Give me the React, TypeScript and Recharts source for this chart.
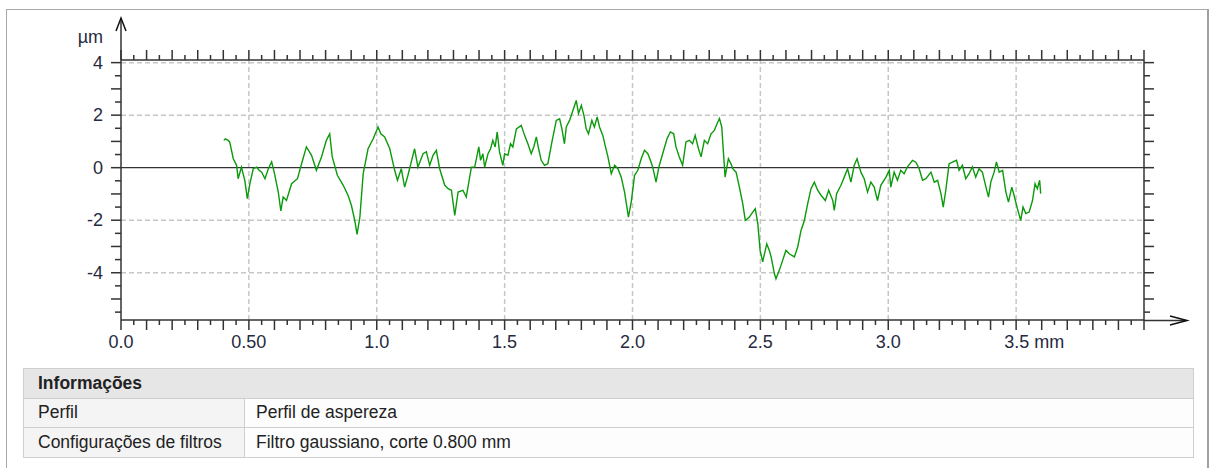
import React from 'react'
import { LineChart, Line, XAxis, YAxis, ReferenceLine } from 'recharts'

// profile (mm, µm)
const profileX = [
  0.402, 0.408, 0.419, 0.425, 0.439, 0.452, 0.458, 0.471, 0.484, 0.494, 0.504, 0.517, 0.53, 0.54, 0.55, 0.563,
  0.576, 0.589, 0.599, 0.615, 0.625, 0.634, 0.647, 0.667, 0.69, 0.706, 0.725, 0.745, 0.764, 0.784, 0.803, 0.816,
  0.826, 0.846, 0.869, 0.888, 0.901, 0.914, 0.923, 0.934, 0.947, 0.966, 0.986, 1.005, 1.016, 1.031, 1.051, 1.07,
  1.081, 1.096, 1.109, 1.122, 1.135, 1.148, 1.161, 1.181, 1.194, 1.207, 1.22, 1.233, 1.246, 1.266, 1.279, 1.292,
  1.305, 1.318, 1.337, 1.35, 1.37, 1.383, 1.399, 1.406, 1.415, 1.422, 1.435, 1.445, 1.454, 1.463, 1.471, 1.48,
  1.493, 1.5, 1.513, 1.523, 1.532, 1.546, 1.565, 1.578, 1.591, 1.604, 1.614, 1.624, 1.633, 1.643, 1.656, 1.669,
  1.685, 1.702, 1.715, 1.724, 1.734, 1.741, 1.754, 1.767, 1.78, 1.789, 1.8, 1.81, 1.819, 1.828, 1.841, 1.851,
  1.862, 1.871, 1.884, 1.893, 1.904, 1.917, 1.93, 1.943, 1.956, 1.969, 1.979, 1.984, 1.995, 2.008, 2.021, 2.034,
  2.047, 2.06, 2.07, 2.079, 2.092, 2.103, 2.118, 2.135, 2.148, 2.161, 2.17, 2.183, 2.196, 2.209, 2.222, 2.235,
  2.245, 2.258, 2.268, 2.281, 2.294, 2.307, 2.32, 2.331, 2.34, 2.349, 2.362, 2.375, 2.385, 2.392, 2.405, 2.418,
  2.431, 2.441, 2.457, 2.47, 2.48, 2.49, 2.499, 2.509, 2.516, 2.525, 2.535, 2.542, 2.555, 2.561, 2.574, 2.587,
  2.6, 2.613, 2.633, 2.646, 2.659, 2.672, 2.685, 2.698, 2.711, 2.724, 2.737, 2.754, 2.767, 2.783, 2.789, 2.798,
  2.815, 2.828, 2.841, 2.854, 2.867, 2.878, 2.893, 2.906, 2.919, 2.932, 2.945, 2.958, 2.971, 2.991, 3.004, 3.01,
  3.023, 3.036, 3.049, 3.062, 3.075, 3.095, 3.108, 3.121, 3.134, 3.147, 3.167, 3.18, 3.193, 3.206, 3.215, 3.225,
  3.238, 3.251, 3.267, 3.277, 3.29, 3.303, 3.316, 3.329, 3.342, 3.355, 3.368, 3.382, 3.392, 3.401, 3.414, 3.423,
  3.434, 3.447, 3.46, 3.47, 3.483, 3.492, 3.505, 3.518, 3.527, 3.538, 3.551, 3.564, 3.574, 3.583, 3.592, 3.596,
]
const profileY = [
  1.04, 1.1, 1.04, 0.98, 0.34, 0.09, -0.42, 0.02, -0.48, -1.18, -0.61, -0.04, 0.02, -0.1, -0.17, -0.42,
  -0.04, 0.22, -0.17, -0.93, -1.65, -1.12, -1.25, -0.61, -0.42, 0.15, 0.79, 0.47, -0.1, 0.41, 1.04, 1.29,
  0.41, -0.29, -0.67, -1.06, -1.44, -2.01, -2.54, -1.88, -0.23, 0.72, 1.1, 1.55, 1.29, 1.17, 0.72, -0.1,
  -0.48, -0.04, -0.74, -0.29, 0.22, 0.72, 0.02, 0.53, 0.6, 0.09, 0.47, 0.66, -0.04, -0.67, -0.8, -0.86,
  -1.82, -0.93, -0.86, -1.12, 0.02, 0.02, 0.79, 0.28, 0.53, 0.02, 0.53, 0.72, 1.04, 0.79, 1.36, 0.6,
  0.09, 0.53, 0.47, 0.91, 0.79, 1.48, 1.61, 1.23, 0.91, 0.53, 0.79, 1.17, 0.72, 0.28, 0.09, 0.15,
  0.98, 1.8, 1.86, 1.48, 0.91, 1.55, 1.8, 2.18, 2.56, 2.06, 2.37, 1.99, 1.48, 1.29, 1.8, 1.55,
  1.93, 1.55, 1.23, 0.85, 0.41, -0.23, 0.09, -0.04, -0.36, -0.93, -1.56, -1.88, -1.31, -0.29, -0.1, 0.34,
  0.66, 0.53, 0.28, 0.02, -0.55, 0.02, 0.53, 1.1, 1.36, 1.29, 0.79, 0.41, 0.09, 0.98, 1.04, 0.91,
  1.23, 0.72, 0.41, 1.04, 0.91, 1.29, 1.42, 1.68, 1.87, 1.55, -0.36, 0.34, 0.15, -0.04, -0.17, -0.74,
  -1.37, -2.01, -1.88, -1.69, -1.56, -2.13, -3.15, -3.59, -3.28, -2.9, -3.15, -3.4, -4.04, -4.23, -3.91, -3.53,
  -3.15, -3.28, -3.4, -3.02, -2.39, -2.01, -1.37, -0.8, -0.55, -0.86, -1.05, -1.25, -0.86, -1.25, -1.63, -0.99,
  -0.67, -0.36, -0.04, -0.55, 0.09, 0.34, -0.17, -0.42, -0.93, -0.55, -0.74, -1.25, -0.67, -0.36, -0.1, -0.74,
  -0.17, -0.48, -0.1, -0.23, 0.03, 0.28, 0.21, -0.04, -0.48, -0.42, -0.17, -0.55, -0.48, -0.99, -1.5, -0.86,
  0.15, 0.21, 0.28, -0.1, 0.09, -0.42, -0.23, 0.03, -0.36, -0.04, -0.17, -0.74, -1.12, -0.55, -0.17, 0.22,
  -0.17, -0.1, -0.93, -1.31, -0.74, -1.05, -1.56, -2.01, -1.5, -1.75, -1.69, -1.25, -0.61, -0.8, -0.48, -0.99,
]

const xMajor = [0, 0.5, 1, 1.5, 2, 2.5, 3, 3.5]
const xLabels = ['0.0', '0.50', '1.0', '1.5', '2.0', '2.5', '3.0', '3.5 mm']
const yMajor = [-4, -2, 0, 2, 4]
const yLabels = ['-4', '-2', '0', '2', '4']
const yGrid = [-4, -2, 2, 4]

const infoRows = [
  ['Perfil', 'Perfil de aspereza'],
  ['Configurações de filtros', 'Filtro gaussiano, corte 0.800 mm'],
]

const data = profileX.map((x, i) => ({ x, y: profileY[i] }))

// minor ticks every 0.05 mm and 0.5 µm
const xTicks = Array.from({ length: 81 }, (_, i) => Math.round(i * 5) / 100)
const yTicks = Array.from({ length: 20 }, (_, i) => -5.5 + i * 0.5)

const AXIS = '#333'
const LABEL = '#262a40'
const FONT = '"Liberation Sans", Arial, sans-serif'

const isLongX = (v: number) => Math.round(v * 20) % 2 === 0
const isLongY = (v: number) => Math.round(v * 2) % 2 === 0

function BottomTick({ x, y, payload }: any) {
  const v = payload.value
  const idx = xMajor.findIndex((m) => Math.abs(m - v) < 1e-6)
  const label = idx >= 0 ? xLabels[idx] : null
  const last = idx === xMajor.length - 1
  return (
    <g>
      <line x1={x} x2={x} y1={y} y2={y + (isLongX(v) ? 10 : 5)} stroke={AXIS} strokeWidth={1.5} />
      {label && (
        <text x={last ? x - 12 : x} y={y + 22} textAnchor={last ? 'start' : 'middle'} dominantBaseline="central"
          fontSize={18} fill={LABEL} fontFamily={FONT}>
          {label}
        </text>
      )}
    </g>
  )
}

function TopTick({ x, y, payload }: any) {
  return <line x1={x} x2={x} y1={y} y2={y - (isLongX(payload.value) ? 10 : 5)} stroke={AXIS} strokeWidth={1.5} />
}

function LeftTick({ x, y, payload }: any) {
  const v = payload.value
  const idx = yMajor.findIndex((m) => Math.abs(m - v) < 1e-6)
  return (
    <g>
      <line x1={x} x2={x - (isLongY(v) ? 10 : 6)} y1={y} y2={y} stroke={AXIS} strokeWidth={1.5} />
      {idx >= 0 && (
        <text x={x - 18} y={y} textAnchor="end" dominantBaseline="central" fontSize={18} fill={LABEL} fontFamily={FONT}>
          {yLabels[idx]}
        </text>
      )}
    </g>
  )
}

function RightTick({ x, y, payload }: any) {
  return <line x1={x} x2={x + (isLongY(payload.value) ? 10 : 6)} y1={y} y2={y} stroke={AXIS} strokeWidth={1.5} />
}

export default function App() {
  return (
    <div style={{ position: 'absolute', left: 0, top: 0, width: 1211, height: 468, background: '#fff', fontFamily: FONT, overflow: 'hidden' }}>
      <div style={{ position: 'absolute', left: 6, top: 9, width: 1200, height: 480, borderLeft: '1px solid #a8a8a8', borderTop: '1px solid #a8a8a8', borderRight: '2px solid #a0a0a0' }} />

      <div style={{ position: 'absolute', left: 0, top: 0 }}>
        <LineChart width={1211} height={360} data={data} margin={{ top: 50, right: 47, bottom: 10, left: 81 }}>
          <XAxis dataKey="x" type="number" domain={[0, 4]} ticks={xTicks} interval={0} allowDataOverflow
            tickSize={0} tickMargin={0} tickLine={false} height={30} tick={<BottomTick />}
            axisLine={{ stroke: AXIS, strokeWidth: 1.5 }} />
          <XAxis xAxisId="top" dataKey="x" orientation="top" type="number" domain={[0, 4]} ticks={xTicks} interval={0} allowDataOverflow
            tickSize={0} tickMargin={0} tickLine={false} height={10} tick={<TopTick />}
            axisLine={{ stroke: AXIS, strokeWidth: 1.5 }} />
          <YAxis type="number" domain={[-5.8, 4.1]} ticks={yTicks} interval={0} allowDataOverflow
            tickSize={0} tickMargin={0} tickLine={false} width={40} tick={<LeftTick />}
            axisLine={{ stroke: AXIS, strokeWidth: 1.5 }} />
          <YAxis yAxisId="right" dataKey="y" orientation="right" type="number" domain={[-5.8, 4.1]} ticks={yTicks} interval={0} allowDataOverflow
            tickSize={0} tickMargin={0} tickLine={false} width={20} tick={<RightTick />}
            axisLine={{ stroke: AXIS, strokeWidth: 1.5 }} />

          {xMajor.slice(1).map((v) => (
            <ReferenceLine key={'gx' + v} x={v} stroke="#c6c6c6" strokeWidth={1.5} strokeDasharray="5 3" />
          ))}
          {yGrid.map((v) => (
            <ReferenceLine key={'gy' + v} y={v} stroke="#c6c6c6" strokeWidth={1.5} strokeDasharray="5 3" />
          ))}
          <ReferenceLine y={0} stroke="#333" strokeWidth={1.2} />

          <Line type="linear" dataKey="y" stroke="#0b9a0b" strokeWidth={1.4} dot={false} isAnimationActive={false} />
        </LineChart>
      </div>

      <svg width={1211} height={360} style={{ position: 'absolute', left: 0, top: 0, pointerEvents: 'none' }}>
        <line x1={121} y1={60} x2={121} y2={18} stroke={AXIS} strokeWidth={1.5} />
        <polyline points="116,31 121,18 126,31" fill="none" stroke="#111" strokeWidth={1.5} />
        <line x1={1144} y1={320.5} x2={1186} y2={320.5} stroke={AXIS} strokeWidth={1.5} />
        <polyline points="1170,316 1187,320.5 1170,325" fill="none" stroke="#111" strokeWidth={1.5} />
        <text x={103} y={37} textAnchor="end" dominantBaseline="central" fontSize={18} fill={LABEL} fontFamily={FONT}>µm</text>
      </svg>

      <table style={{ position: 'absolute', left: 23, top: 368, width: 1171, borderCollapse: 'collapse', fontSize: 17.5, color: '#222', fontFamily: FONT }}>
        <tbody>
          <tr style={{ height: 29.5 }}>
            <td colSpan={2} style={{ background: '#e6e6e6', border: '1px solid #cfcfcf', padding: '0 0 0 14px', fontWeight: 'bold' }}>
              Informações
            </td>
          </tr>
          {infoRows.map(([k, v]) => (
            <tr key={k} style={{ height: 29.5 }}>
              <td style={{ width: 206, background: '#f4f4f4', border: '1px solid #cfcfcf', padding: '0 0 0 14px' }}>{k}</td>
              <td style={{ background: '#fdfdfd', border: '1px solid #cfcfcf', padding: '0 0 0 11px' }}>{v}</td>
            </tr>
          ))}
        </tbody>
      </table>
    </div>
  )
}
